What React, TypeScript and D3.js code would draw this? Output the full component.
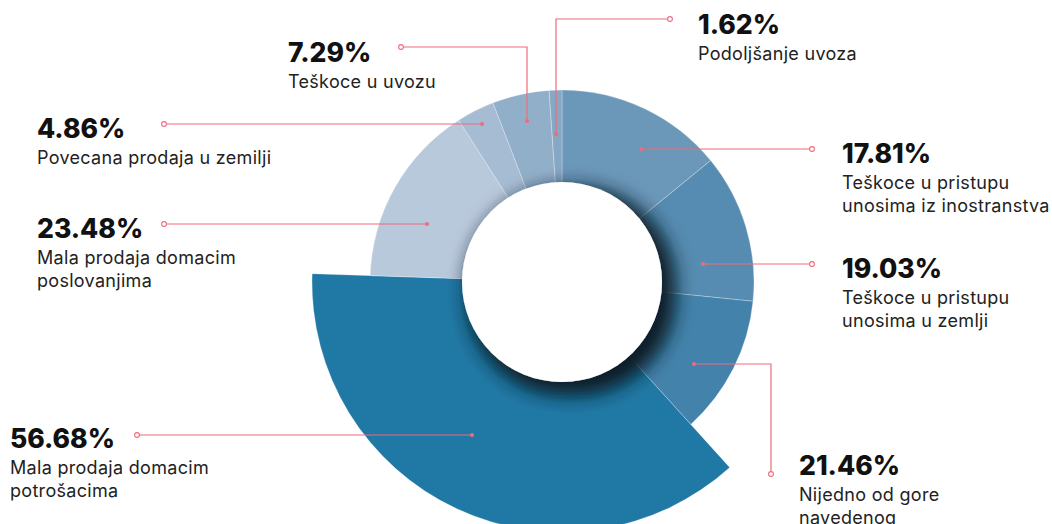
import React from "react";
import * as d3 from "d3";

// Slices clockwise from 12 o'clock (angle share), with their outer-radius group
const sliceValues = [21.46, 19.03, 17.81, 56.68, 23.48, 4.86, 7.29, 1.62];
const sliceBig = [false, false, false, true, false, false, false, false];
const sliceColors = ["#6b97b9", "#568cb1", "#4383ab", "#2079a5", "#b9c9dc", "#a6bcd3", "#92afca", "#86a8c5"];

// Labels
const labelPercents = ["17.81%", "19.03%", "21.46%", "56.68%", "23.48%", "4.86%", "7.29%", "1.62%"];
const labelTexts = [
  ["Teškoce u pristupu", "unosima iz inostranstva"],
  ["Teškoce u pristupu", "unosima u zemlji"],
  ["Nijedno od gore", "navedenog"],
  ["Mala prodaja domacim", "potrošacima"],
  ["Mala prodaja domacim", "poslovanjima"],
  ["Povecana prodaja u zemilji"],
  ["Teškoce u uvozu"],
  ["Podoljšanje uvoza"],
];
const labelSlice = [0, 1, 2, 3, 4, 5, 6, 7];

const W = 1052, H = 524;
const cx = 562, cy = 282;
const innerR = 100, outerR = 192, bigR = 250;
const lineColor = "#f06b7c";

// layout of label anchors (pixel layout, not data)
const layouts = [
  { tx: 842, ty: 163, pts: [[641, 149], [812, 149]] },
  { tx: 842, ty: 278, pts: [[703, 264], [812, 264]] },
  { tx: 799, ty: 475, pts: [[694, 364], [771, 364], [771, 474]] },
  { tx: 10, ty: 448, pts: [[472, 435], [137, 435]] },
  { tx: 37, ty: 238, pts: [[427, 224], [164, 224]] },
  { tx: 37, ty: 138, pts: [[482, 124], [164, 124]] },
  { tx: 288, ty: 62, pts: [[527, 121], [527, 47], [401, 47]] },
  { tx: 698, ty: 34, pts: [[556, 134], [556, 19], [670, 19]] },
];

export default function App() {
  const pie = d3.pie<number>().sort(null).value((d) => d).startAngle(0).endAngle(2 * Math.PI);
  const arcs = pie(sliceValues);
  const arcGen = d3.arc<d3.PieArcDatum<number>>().innerRadius(innerR - 4);
  const line = d3.line();

  return (
    <svg width={W} height={H} style={{ position: "absolute", left: 0, top: 0 }} fontFamily="Inter, sans-serif">
      <defs>
        <filter id="sh" x="-50%" y="-50%" width="200%" height="200%">
          <feMorphology in="SourceAlpha" operator="dilate" radius="5" result="dil" />
          <feGaussianBlur in="dil" stdDeviation="9" result="blur" />
          <feOffset in="blur" dx="9" dy="9" result="off" />
          <feFlood floodColor="#0b1f2a" floodOpacity="1" />
          <feComposite in2="off" operator="in" result="shadow" />
          <feMerge>
            <feMergeNode in="shadow" />
            <feMergeNode in="SourceGraphic" />
          </feMerge>
        </filter>
      </defs>
      <g transform={`translate(${cx},${cy})`}>
        {arcs.map((a, i) => (
          <path
            key={i}
            d={arcGen.outerRadius(sliceBig[i] ? bigR : outerR)(a) || ""}
            fill={sliceColors[i]}
            stroke="rgba(255,255,255,0.35)"
            strokeWidth={0.8}
          />
        ))}
        <circle r={innerR} fill="#fff" filter="url(#sh)" />
      </g>
      {labelPercents.map((p, i) => {
        const L = layouts[labelSlice[i]];
        const pts = L.pts as [number, number][];
        const end = pts[pts.length - 1];
        return (
          <g key={i}>
            <path d={line(pts) || ""} fill="none" stroke={lineColor} strokeWidth={1.2} />
            <circle cx={pts[0][0]} cy={pts[0][1]} r={2} fill={lineColor} />
            <circle cx={end[0]} cy={end[1]} r={2.4} fill="#fff" stroke={lineColor} strokeWidth={1.1} />
            <text x={L.tx} y={L.ty} fontSize={26.5} fontWeight={800} fill="#111">{p}</text>
            {labelTexts[i].map((t, j) => (
              <text key={j} x={L.tx} y={L.ty + 26 + j * 23} fontSize={18} letterSpacing={0.3} fill="#222">{t}</text>
            ))}
          </g>
        );
      })}
    </svg>
  );
}
